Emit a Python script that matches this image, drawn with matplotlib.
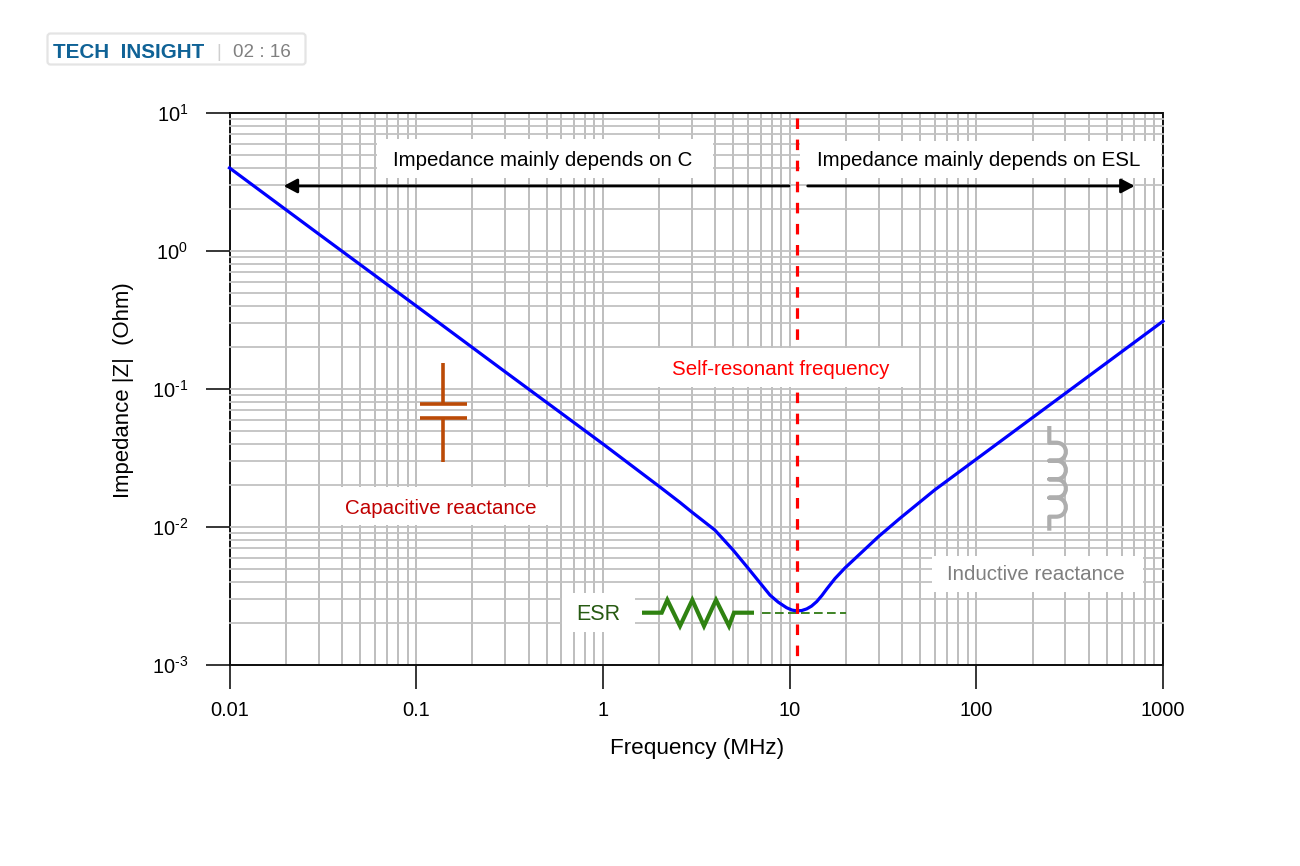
import matplotlib
matplotlib.use("Agg")
import matplotlib.pyplot as plt
from matplotlib.patches import FancyBboxPatch, PathPatch, Rectangle
from matplotlib.path import Path
from matplotlib.transforms import Affine2D
from matplotlib.ticker import FixedLocator, NullFormatter

plt.rcParams["font.family"] = ["Liberation Sans", "DejaVu Sans"]
plt.rcParams["mathtext.fontset"] = "custom"
plt.rcParams["mathtext.rm"] = "Liberation Sans"
plt.rcParams["mathtext.default"] = "regular"

# Impedance curve of the capacitor
freq_mhz = [0.01, 0.03, 0.1, 0.3, 1, 2, 2.59, 2.99, 3.98, 4.98, 5.98, 7.85, 8.67, 9.64, 10.3,
            10.9, 11.6, 12.35, 13.1, 13.97, 14.9, 15.8, 17.5, 19.8, 29.9, 39, 60, 100,
            200, 500, 1000]
impedance_ohm = [4, 1.33, 0.4, 0.133, 0.04, 0.0197, 0.01505, 0.01285, 0.0095, 0.00681, 0.00505,
                 0.00321, 0.00286, 0.0026, 0.0025, 0.00247, 0.00248, 0.00255, 0.00267, 0.00288,
                 0.00319, 0.00355, 0.00423, 0.00505, 0.00851, 0.01156, 0.0186, 0.031,
                 0.062, 0.155, 0.31]

x_ticks = [0.01, 0.1, 1, 10, 100, 1000]
x_tick_labels = ["0.01", "0.1", "1", "10", "100", "1000"]
y_ticks = [1e-3, 1e-2, 1e-1, 1, 10]
y_tick_labels = [r"$10^{\text{-3}}$", r"$10^{\text{-2}}$", r"$10^{\text{-1}}$",
                 r"$10^{0}$", r"$10^{1}$"]
x_minor = [m * d for d in x_ticks[:-1] for m in range(2, 10)]
y_minor = [m * d for d in y_ticks[:-1] for m in range(2, 10)]

self_resonant_mhz = 11
self_resonant_span = [9.2, 0.00112]
esr_ohm = 0.00238
esr_span = [7.1, 20]
arrow_ohm = 2.96
c_arrow_span = [9.93, 0.0195]
esl_arrow_span = [12.5, 705]

fig = plt.figure(figsize=(13, 8.66), dpi=100, facecolor="white")
ax = fig.add_axes([229.5 / 1300, 201 / 866, 933.5 / 1300, 552 / 866])
px = Affine2D().scale(1, -1).translate(0, 866)  # top-left pixel coordinates

ax.set_xscale("log")
ax.set_yscale("log")
ax.set_xlim(0.01, 1000)
ax.set_ylim(1e-3, 10)

ax.xaxis.set_major_locator(FixedLocator(x_ticks))
ax.yaxis.set_major_locator(FixedLocator(y_ticks))
ax.xaxis.set_minor_locator(FixedLocator(x_minor))
ax.yaxis.set_minor_locator(FixedLocator(y_minor))
ax.xaxis.set_minor_formatter(NullFormatter())
ax.yaxis.set_minor_formatter(NullFormatter())
ax.set_xticklabels(x_tick_labels)
ax.set_yticklabels(y_tick_labels)
ax.tick_params(which="major", direction="out", length=17.3, width=1.1, color="black",
               labelsize=14.4, labelcolor="black")
ax.tick_params(axis="x", which="major", pad=8.5)
ax.tick_params(axis="y", which="major", pad=12.5)
ax.tick_params(which="minor", length=0)

ax.grid(True, which="both", axis="x", color="#b9b9b9", lw=1.3)
ax.grid(True, which="both", axis="y", color="#c2c2c2", lw=1.3)
ax.xaxis.set_zorder(0.5)
ax.yaxis.set_zorder(1.5)
for gridded in ax.yaxis.get_major_ticks() + ax.yaxis.get_minor_ticks():
    gridded.gridline.set_clip_on(False)

for side, order in (("left", 1), ("right", 1), ("top", 1.6), ("bottom", 1.6)):
    ax.spines[side].set_zorder(order)
    ax.spines[side].set_linewidth(1.3)
    ax.spines[side].set_color("black")


def white_box(x0, y0, x1, y1, order=1.8):
    ax.add_patch(Rectangle((x0, y0), x1 - x0, y1 - y0, transform=px, fc="white", ec="none",
                           zorder=order, clip_on=False))


def label(x, y, text, color="black", size=14.8, **kw):
    kw.setdefault("ha", "center")
    ax.text(x, y, text, transform=px, color=color, fontsize=size, va="center",
            zorder=6, clip_on=False, **kw)


def symbol(xs, ys, color, lw):
    ax.plot(xs, ys, transform=px, color=color, lw=lw, zorder=4,
            solid_capstyle="butt", solid_joinstyle="miter", clip_on=False)


# White panels behind the annotations
white_box(377, 139, 713, 178)
white_box(800, 141, 1161, 178)
white_box(325, 487, 555, 525)
white_box(932, 556, 1143, 592)
white_box(562, 593, 635, 632)

# Impedance curve, ESR level and resonance marker
ax.plot(esr_span, [esr_ohm, esr_ohm], color="#2f7a14", lw=1.3, dashes=(4.8, 2.4), zorder=2.0)
ax.plot(freq_mhz, impedance_ohm, color="#0000ff", lw=2.3, zorder=2.1, clip_on=False,
        solid_joinstyle="round")
ax.plot([self_resonant_mhz] * 2, self_resonant_span, color="#ff0000", lw=2.3,
        dashes=(3.3, 3.3), zorder=2.2)
white_box(604, 348, 918, 387, order=2.3)

# Direction arrows
for span in (c_arrow_span, esl_arrow_span):
    ax.annotate("", xy=(span[1], arrow_ohm), xytext=(span[0], arrow_ohm), zorder=5,
                arrowprops=dict(arrowstyle="-|>,head_length=0.62,head_width=0.33",
                                mutation_scale=13, color="black", lw=2.0,
                                shrinkA=0, shrinkB=0))

# Annotation text
label(542.5, 161, "Impedance mainly depends on C")
label(978.5, 161, "Impedance mainly depends on ESL")
label(780.5, 369.5, "Self-resonant frequency", color="#ff0000")
label(440.5, 508, "Capacitive reactance", color="#c00000")
label(1036, 575, "Inductive reactance", color="#7f7f7f")
label(598.5, 614.5, "ESR", color="#275a12", size=15.5)

# Capacitor symbol
cap_color = "#bb4a06"
symbol([443.3, 443.3], [363, 403], cap_color, 2.6)
symbol([420, 467], [403.5, 403.5], cap_color, 2.6)
symbol([420, 467], [418.3, 418.3], cap_color, 2.6)
symbol([443.3, 443.3], [418, 462], cap_color, 2.6)

# Resistor symbol
symbol([642, 661.7, 667.3, 680, 692.3, 704, 716, 729, 734, 754],
       [612.7, 612.7, 600, 626, 600, 626, 600, 626, 612.7, 612.7], "#2f8211", 3)

# Inductor symbol: a lead, four round lobes, a lead
ind_x, lobe_start, lobe_ctrl = 1049.3, 1056, 1069.2
ind_y = [442.7, 460.7, 479.3, 497.7, 516.7]
verts, codes = [(ind_x, 426), (ind_x, ind_y[0])], [Path.MOVETO, Path.LINETO]
for a, b in zip(ind_y[:-1], ind_y[1:]):
    verts += [(lobe_start, a), (lobe_ctrl, a), (lobe_ctrl, b), (lobe_start, b), (ind_x, b)]
    codes += [Path.LINETO, Path.CURVE4, Path.CURVE4, Path.CURVE4, Path.LINETO]
verts.append((ind_x, 530.7))
codes.append(Path.LINETO)
ax.add_patch(PathPatch(Path(verts, codes), transform=px, fill=False, ec="#aeaeae", lw=3,
                       zorder=4, clip_on=False, joinstyle="round", capstyle="butt"))

# Axis titles
label(697, 748.5, "Frequency (MHz)", size=16.2)
label(124, 390, "Impedance |Z|  (Ohm)", size=15.9, rotation=90)

# Header badge
ax.add_patch(FancyBboxPatch((47.5, 33.5), 258, 31, boxstyle="round,pad=0,rounding_size=3",
                            transform=px, fc="white", ec="#e4e4e4", lw=1.6, zorder=5,
                            clip_on=False))
label(53, 52.5, "TECH  INSIGHT", color="#0f6296", size=14.9, ha="left", fontweight="bold")
label(219, 52.5, "|", color="#cfcfcf", size=13)
label(233, 52.5, "02 : 16", color="#808080", size=13.6, ha="left")

fig.savefig("out.png", dpi=100, facecolor="white")
